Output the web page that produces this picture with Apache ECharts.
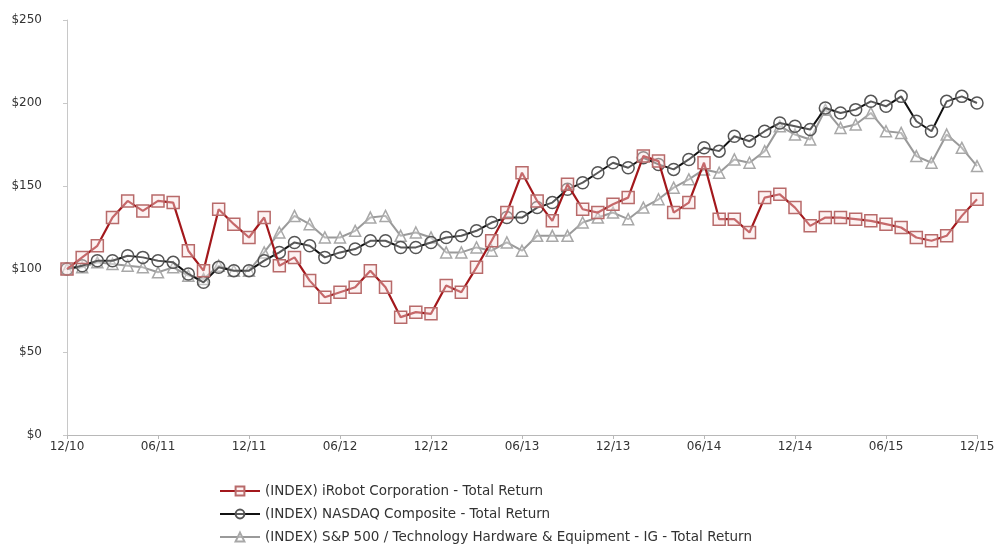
<!DOCTYPE html>
<html>
<head>
<meta charset="utf-8">
<script src="https://cdn.jsdelivr.net/npm/echarts@6/dist/echarts.min.js"></script>
<style>
html,body{margin:0;padding:0;background:#fff;}
#chart{width:1002px;height:556px;}
</style>
</head>
<body>
<div id="chart"></div>
<script>
const months = [
 "12/10","01/11","02/11","03/11","04/11","05/11","06/11","07/11","08/11","09/11","10/11","11/11",
 "12/11","01/12","02/12","03/12","04/12","05/12","06/12","07/12","08/12","09/12","10/12","11/12",
 "12/12","01/13","02/13","03/13","04/13","05/13","06/13","07/13","08/13","09/13","10/13","11/13",
 "12/13","01/14","02/14","03/14","04/14","05/14","06/14","07/14","08/14","09/14","10/14","11/14",
 "12/14","01/15","02/15","03/15","04/15","05/15","06/15","07/15","08/15","09/15","10/15","11/15",
 "12/15"
];
const irobot = [
 100,107,114,131,141,135,141,140,111,99,136,127,
 119,131,102,107,93,83,86,89,99,89,71,74,
 73,90,86,101,117,134,158,141,129,151,136,134,
 139,143,168,165,134,140,164,130,130,122,143,145,
 137,126,131,131,130,129,127,125,119,117,120,132,
 142
];
const nasdaq = [
 100,102,105,105,108,107,105,104,97,92,101,99,
 99,105,110,116,114,107,110,112,117,117,113,113,
 116,119,120,123,128,131,131,137,140,148,152,158,
 164,161,167,163,160,166,173,171,180,177,183,188,
 186,184,197,194,196,201,198,204,189,183,201,204,
 200
];
const spTech = [
 100,101,104,103,102,101,98,101,96,94,102,99,
 99,110,122,132,127,119,119,123,131,132,120,122,
 119,110,110,113,111,116,111,120,120,120,128,131,
 134,130,137,142,149,154,160,158,166,164,171,186,
 181,178,196,185,187,194,183,182,168,164,181,173,
 162
];
const seriesNames = [
 "(INDEX) iRobot Corporation - Total Return",
 "(INDEX) NASDAQ Composite - Total Return",
 "(INDEX) S&P 500 / Technology Hardware & Equipment - IG - Total Return"
];

const chart = echarts.init(document.getElementById('chart'));
const font = 'DejaVu Sans, Arial, sans-serif';
chart.setOption({
  animation: false,
  backgroundColor: '#fff',
  grid: {left: 67, right: 25, top: 20, bottom: 121},
  xAxis: {
    type: 'category',
    data: months,
    boundaryGap: false,
    axisLine: {lineStyle: {color: '#b8b8b8', width: 1}},
    axisTick: {show: true, interval: (i) => i % 6 === 0, length: 4, lineStyle: {color: '#b8b8b8'}},
    axisLabel: {interval: (i) => i % 6 === 0, color: '#333', fontFamily: font, fontSize: 12, margin: 6},
    splitLine: {show: false}
  },
  yAxis: {
    type: 'value',
    min: 0, max: 250, interval: 50,
    axisLine: {show: true, lineStyle: {color: '#c8c8c8'}},
    axisTick: {show: true, length: 4, lineStyle: {color: '#c8c8c8'}},
    axisLabel: {formatter: (v) => '$' + v, color: '#333', fontFamily: font, fontSize: 12, margin: 25},
    splitLine: {show: false}
  },
  legend: {
    orient: 'vertical',
    left: 214, top: 479,
    itemWidth: 40, itemHeight: 11, itemGap: 9,
    textStyle: {color: '#333', fontFamily: font, fontSize: 13.5},
    data: seriesNames
  },
  series: [
    {
      name: seriesNames[2], type: 'line', data: spTech, z: 2,
      symbol: 'triangle', symbolSize: 11, showAllSymbol: true,
      lineStyle: {color: '#9a9a9a', width: 2},
      itemStyle: {color: 'rgba(255,255,255,0.3)', borderColor: '#a8a8a8', borderWidth: 1.5}
    },
    {
      name: seriesNames[1], type: 'line', data: nasdaq, z: 3,
      symbol: 'circle', symbolSize: 12, showAllSymbol: true,
      lineStyle: {color: '#111', width: 2},
      itemStyle: {color: 'rgba(255,255,255,0.3)', borderColor: '#555', borderWidth: 1.5}
    },
    {
      name: seriesNames[0], type: 'line', data: irobot, z: 4,
      symbol: 'rect', symbolSize: 12, showAllSymbol: true,
      lineStyle: {color: '#a3181c', width: 2.2},
      itemStyle: {color: 'rgba(250,225,225,0.4)', borderColor: '#b86a6a', borderWidth: 1.5}
    }
  ]
});
</script>
</body>
</html>
